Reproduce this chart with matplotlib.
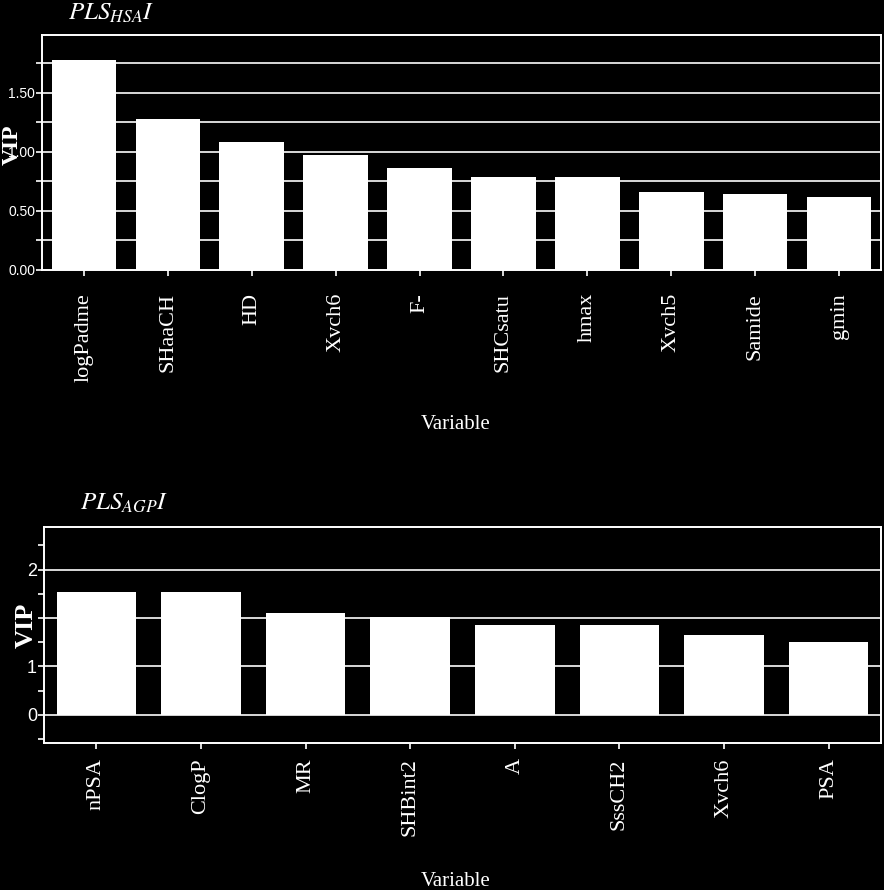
import numpy as np
import matplotlib
matplotlib.use("Agg")
import matplotlib.pyplot as plt
from matplotlib.ticker import FixedLocator

plt.rcParams['mathtext.fontset'] = 'stix'

# top panel: PLS HSA I
hsa_vars = ["logPadme", "SHaaCH", "HD", "Xvch6", "F-", "SHCsatu", "hmax", "Xvch5", "Samide", "gmin"]
hsa_vip = [1.776, 1.275, 1.082, 0.969, 0.864, 0.785, 0.788, 0.655, 0.643, 0.618]
hsa_major = [0.0, 0.5, 1.0, 1.5]
hsa_major_labels = ["0.00", "0.50", "1.00", "1.50"]
hsa_minor = [0.25, 0.75, 1.25, 1.75]
hsa_grid = [0.25, 0.5, 0.75, 1.0, 1.25, 1.5, 1.75]

# bottom panel: PLS AGP I
agp_vars = ["nPSA", "ClogP", "MR", "SHBint2", "A", "SssCH2", "Xvch6", "PSA"]
agp_vip = [1.27, 1.27, 1.055, 1.01, 0.93, 0.93, 0.82, 0.756]
agp_major = [0.0, 0.5, 1.0, 1.5]
agp_major_labels = ["0", "1", "", "2"]
agp_minor = [-0.25, 0.25, 0.75, 1.25, 1.75]
agp_grid = [0.0, 0.5, 1.0, 1.5]

W, H = 884, 890
fig = plt.figure(figsize=(W / 100, H / 100), dpi=100, facecolor="black")

serif = ["Liberation Serif", "DejaVu Serif"]
narrow = ["Liberation Sans Narrow", "Liberation Sans", "DejaVu Sans"]
white = "white"
grid_c = "#d8d8d8"


def px_axes(left, top, right, bottom):
    return fig.add_axes([left / W, 1 - bottom / H, (right - left) / W, (bottom - top) / H])


def style(ax, names, vals, width, ylim, major, major_labels, minor, grid, ylab_size, xpad):
    ax.set_facecolor("black")
    x = np.arange(len(names))
    ax.bar(x, vals, width=width, color=white, edgecolor="none", zorder=3)
    ax.set_xlim(-0.5, len(names) - 0.5)
    ax.set_ylim(*ylim)
    for v in grid:
        ax.axhline(v, color=grid_c, lw=1.4, zorder=1)
    ax.yaxis.set_major_locator(FixedLocator(major))
    ax.set_yticklabels(major_labels, family=narrow, fontsize=ylab_size, color=white)
    ax.yaxis.set_minor_locator(FixedLocator(minor))
    ax.tick_params(axis="y", which="both", colors=white, length=4, width=1.2, pad=1)
    ax.set_xticks(x)
    ax.set_xticklabels(names, rotation=90, family=serif, fontsize=16, color=white, va="top")
    ax.tick_params(axis="x", colors=white, length=4, width=1.2, pad=xpad)
    for s in ax.spines.values():
        s.set_color(white)
        s.set_linewidth(1.4)


ax_top = px_axes(42, 35, 881, 269.5)
ax_bot = px_axes(44, 527, 881, 743)

style(ax_top, hsa_vars, hsa_vip, 0.77, (0, 1.99), hsa_major, hsa_major_labels,
      hsa_minor, hsa_grid, 10, 13)
style(ax_bot, agp_vars, agp_vip, 0.76, (-0.29, 1.94), agp_major, agp_major_labels,
      agp_minor, agp_grid, 13, 7)

# titles
fig.text(68 / W, 1 - 13 / H, r"$PLS_{HSA}I$", color=white, fontsize=18, va="center", ha="left")
fig.text(80 / W, 1 - 503 / H, r"$PLS_{AGP}I$", color=white, fontsize=18, va="center", ha="left")

# axis labels
fig.text(12 / W, 1 - 145 / H, "VIP", color=white, fontsize=17, fontweight="bold",
         family=serif, rotation=90, va="center", ha="center")
fig.text(26 / W, 1 - 625 / H, "VIP", color=white, fontsize=19, fontweight="bold",
         family=serif, rotation=90, va="center", ha="center")
fig.text(456 / W, 1 - 425 / H, "Variable", color=white, fontsize=15,
         family=serif, va="center", ha="center")
fig.text(456 / W, 1 - 881 / H, "Variable", color=white, fontsize=15,
         family=serif, va="center", ha="center")

fig.savefig("out.png", dpi=100, facecolor="black")
